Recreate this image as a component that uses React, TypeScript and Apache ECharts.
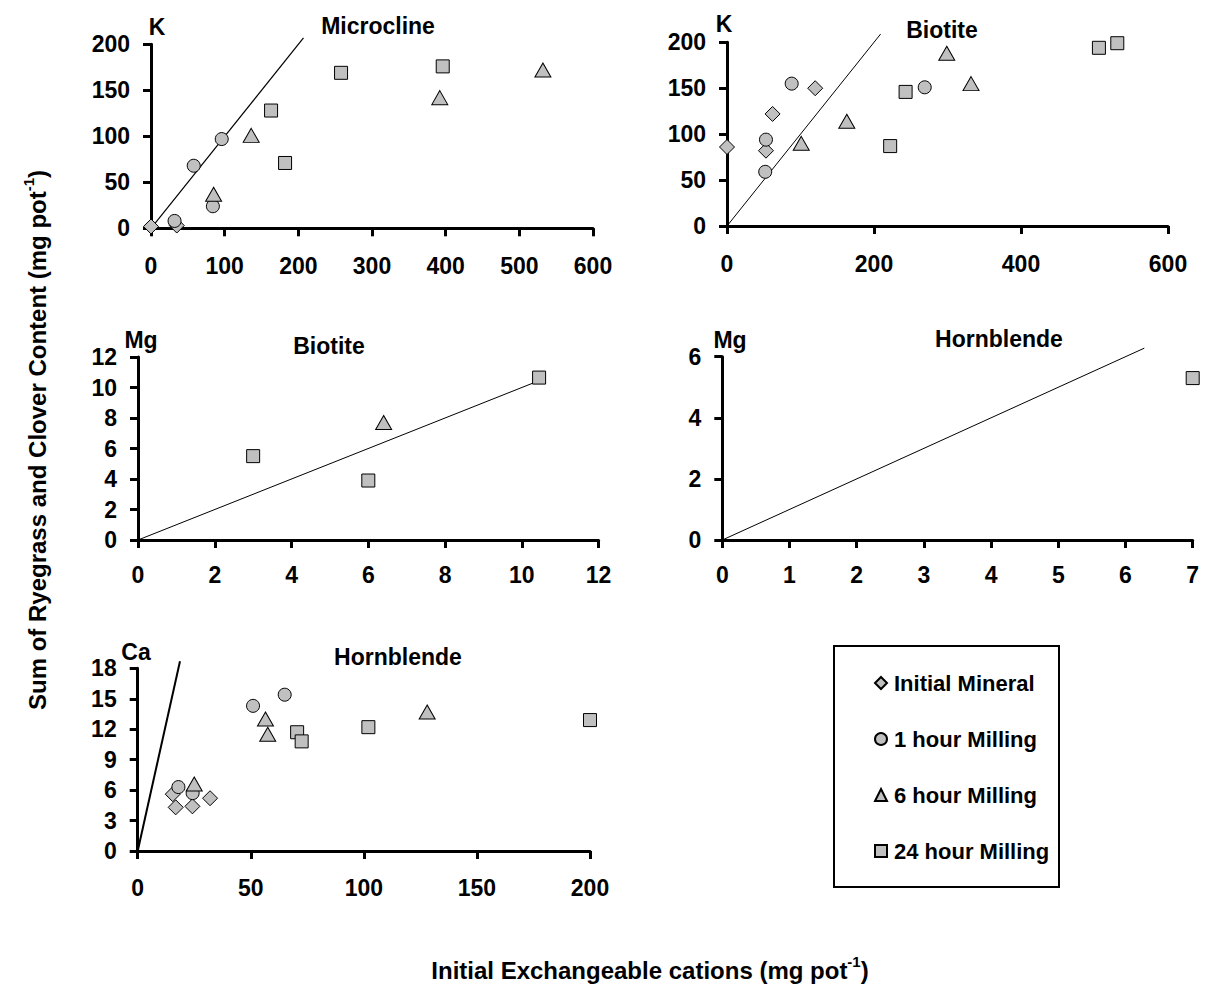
import React, { useEffect, useRef } from "react";
import * as echarts from "echarts";

// ---------- data ----------
const seriesNames = ["Initial Mineral", "1 hour Milling", "6 hour Milling", "24 hour Milling"];

// Panel 1: K, Microcline
const micInitial = [[0, 2], [35, 3]];
const mic1h = [[32, 8], [58, 68], [84, 24], [96, 97]];
const mic6h = [[85, 37], [136, 101], [392, 142], [532, 172]];
const mic24h = [[163, 128], [182, 71], [258, 169], [396, 176]];
const micLine = [[0, 0], [207, 207]];

// Panel 2: K, Biotite
const bioKInitial = [[0, 86], [53, 82], [62, 122], [120, 150]];
const bioK1h = [[52, 59], [53, 94], [88, 155], [269, 151]];
const bioK6h = [[101, 90], [163, 114], [299, 188], [332, 155]];
const bioK24h = [[222, 87], [243, 146], [506, 194], [531, 199]];
const bioKLine = [[0, 0], [209, 209]];

// Panel 3: Mg, Biotite
const bioMgInitial: number[][] = [];
const bioMg1h: number[][] = [];
const bioMg6h = [[6.4, 7.7]];
const bioMg24h = [[3, 5.5], [6, 3.9], [10.45, 10.65]];
const bioMgLine = [[0, 0], [10.3, 10.3]];

// Panel 4: Mg, Hornblende
const hbMgInitial: number[][] = [];
const hbMg1h: number[][] = [];
const hbMg6h: number[][] = [];
const hbMg24h = [[7, 5.3]];
const hbMgLine = [[0, 0], [6.28, 6.28]];

// Panel 5: Ca, Hornblende
const hbCaInitial = [[15.5, 5.6], [16.8, 4.3], [24.2, 4.4], [32, 5.2]];
const hbCa1h = [[18, 6.3], [24.3, 5.7], [51, 14.3], [65, 15.4]];
const hbCa6h = [[25, 6.6], [56.5, 13], [57.5, 11.5], [128, 13.7]];
const hbCa24h = [[70.5, 11.7], [72.5, 10.8], [102, 12.2], [200, 12.9]];
const hbCaLine = [[0, 0], [18.7, 18.7]];

// axes
const xMax = [600, 600, 12, 7, 200];
const xInterval = [100, 200, 2, 1, 50];
const yMax = [200, 200, 12, 6, 18];
const yInterval = [50, 50, 2, 2, 3];

const panelElements = ["K", "K", "Mg", "Mg", "Ca"];
const panelMinerals = ["Microcline", "Biotite", "Biotite", "Hornblende", "Hornblende"];
const yTitle = "Sum of Ryegrass and Clover Content (mg pot";
const xTitle = "Initial Exchangeable cations (mg pot";

const FONT = "'Liberation Sans', Arial, sans-serif";

const panels = [
  [micInitial, mic1h, mic6h, mic24h, micLine],
  [bioKInitial, bioK1h, bioK6h, bioK24h, bioKLine],
  [bioMgInitial, bioMg1h, bioMg6h, bioMg24h, bioMgLine],
  [hbMgInitial, hbMg1h, hbMg6h, hbMg24h, hbMgLine],
  [hbCaInitial, hbCa1h, hbCa6h, hbCa24h, hbCaLine],
];

// layout
const grids = [
  { left: 151, top: 44.3, width: 442, height: 184 },
  { left: 727, top: 42.3, width: 441, height: 183.7 },
  { left: 138, top: 357, width: 460.6, height: 183 },
  { left: 722.3, top: 356.7, width: 470.4, height: 183.3 },
  { left: 137.7, top: 668.3, width: 452.3, height: 182.7 },
];
const xLabelMargin = [26, 26, 23, 23, 25];
const lineWidths = [1.2, 1, 1, 1, 2];
const elementPos = [[157, 27], [724, 24], [141, 340], [730, 340], [136, 652]];
const mineralPos = [[378, 26], [942, 30], [329, 346], [999, 339], [398, 657]];

const symbols = ["diamond", "circle", "triangle", "rect"];
const symbolSizes: any[] = [15, 13, [16, 14], 13];

export default function App() {
  const ref = useRef<HTMLDivElement>(null);
  useEffect(() => {
    if (!ref.current) return;
    const chart = echarts.init(ref.current, null, { renderer: "svg" });

    const axisCommon = {
      axisLine: { show: true, onZero: false, lineStyle: { color: "#000", width: 3 } },
      axisTick: { show: true, inside: false, length: 8, lineStyle: { color: "#000", width: 3 } },
      splitLine: { show: false },
    };
    const labelStyle = { color: "#000", fontWeight: "bold", fontSize: 23, fontFamily: FONT };

    const xAxis = grids.map((_, i) => ({
      type: "value",
      gridIndex: i,
      min: 0,
      max: xMax[i],
      interval: xInterval[i],
      ...axisCommon,
      axisLabel: { ...labelStyle, margin: xLabelMargin[i] },
    }));
    const yAxis = grids.map((_, i) => ({
      type: "value",
      gridIndex: i,
      min: 0,
      max: yMax[i],
      interval: yInterval[i],
      ...axisCommon,
      axisLabel: { ...labelStyle, margin: 21 },
    }));

    const series: any[] = [];
    panels.forEach((p, i) => {
      series.push({
        type: "line",
        name: "1:1 line " + i,
        data: p[4],
        xAxisIndex: i,
        yAxisIndex: i,
        symbol: "none",
        clip: false,
        silent: true,
        lineStyle: { color: "#000", width: lineWidths[i] },
        z: 2,
      });
      for (let k = 0; k < 4; k++) {
        series.push({
          type: "scatter",
          name: seriesNames[k],
          data: p[k],
          xAxisIndex: i,
          yAxisIndex: i,
          symbol: symbols[k],
          symbolSize: symbolSizes[k],
          clip: false,
          itemStyle: { color: "#c0c0c0", borderColor: "#000", borderWidth: 1, opacity: 1 },
          z: 3,
        });
      }
    });

    const graphic: any[] = [];
    panelElements.forEach((t, i) => {
      graphic.push({
        type: "text",
        x: elementPos[i][0],
        y: elementPos[i][1],
        style: { text: t, fill: "#000", font: `bold 23px ${FONT}`, align: "center", verticalAlign: "middle" },
      });
      graphic.push({
        type: "text",
        x: mineralPos[i][0],
        y: mineralPos[i][1],
        style: { text: panelMinerals[i], fill: "#000", font: `bold 23px ${FONT}`, align: "center", verticalAlign: "middle" },
      });
    });
    const rich = {
      b: { fontSize: 24, fontWeight: "bold", fontFamily: FONT, fill: "#000", lineHeight: 32 },
      s: { fontSize: 15, fontWeight: "bold", fontFamily: FONT, fill: "#000", verticalAlign: "top", lineHeight: 16 },
    };
    graphic.push({
      type: "text",
      x: 37,
      y: 440,
      rotation: Math.PI / 2,
      style: {
        text: `{b|${yTitle}}{s|-1}{b|)}`,
        rich,
        align: "center",
        verticalAlign: "middle",
      },
    });
    graphic.push({
      type: "text",
      x: 650,
      y: 970,
      style: {
        text: `{b|${xTitle}}{s|-1}{b|)}`,
        rich,
        align: "center",
        verticalAlign: "middle",
      },
    });
    graphic.push({
      type: "rect",
      shape: { x: 834, y: 646, width: 225, height: 241 },
      style: { fill: "none", stroke: "#000", lineWidth: 2 },
    });

    chart.setOption({
      animation: false,
      backgroundColor: "#fff",
      grid: grids.map((g) => ({ ...g, containLabel: false })),
      xAxis,
      yAxis,
      series,
      legend: {
        data: seriesNames,
        orient: "vertical",
        left: 869,
        top: 667,
        itemWidth: 12,
        itemHeight: 12,
        itemGap: 34,
        textStyle: { color: "#000", fontWeight: "bold", fontSize: 22, fontFamily: FONT, padding: [0, 0, 0, 2] },
        selectedMode: false,
      },
      graphic,
    });
    return () => chart.dispose();
  }, []);
  return (
    <div
      ref={ref}
      style={{ position: "absolute", left: 0, top: 0, width: 1215, height: 1000, background: "#fff" }}
    />
  );
}
